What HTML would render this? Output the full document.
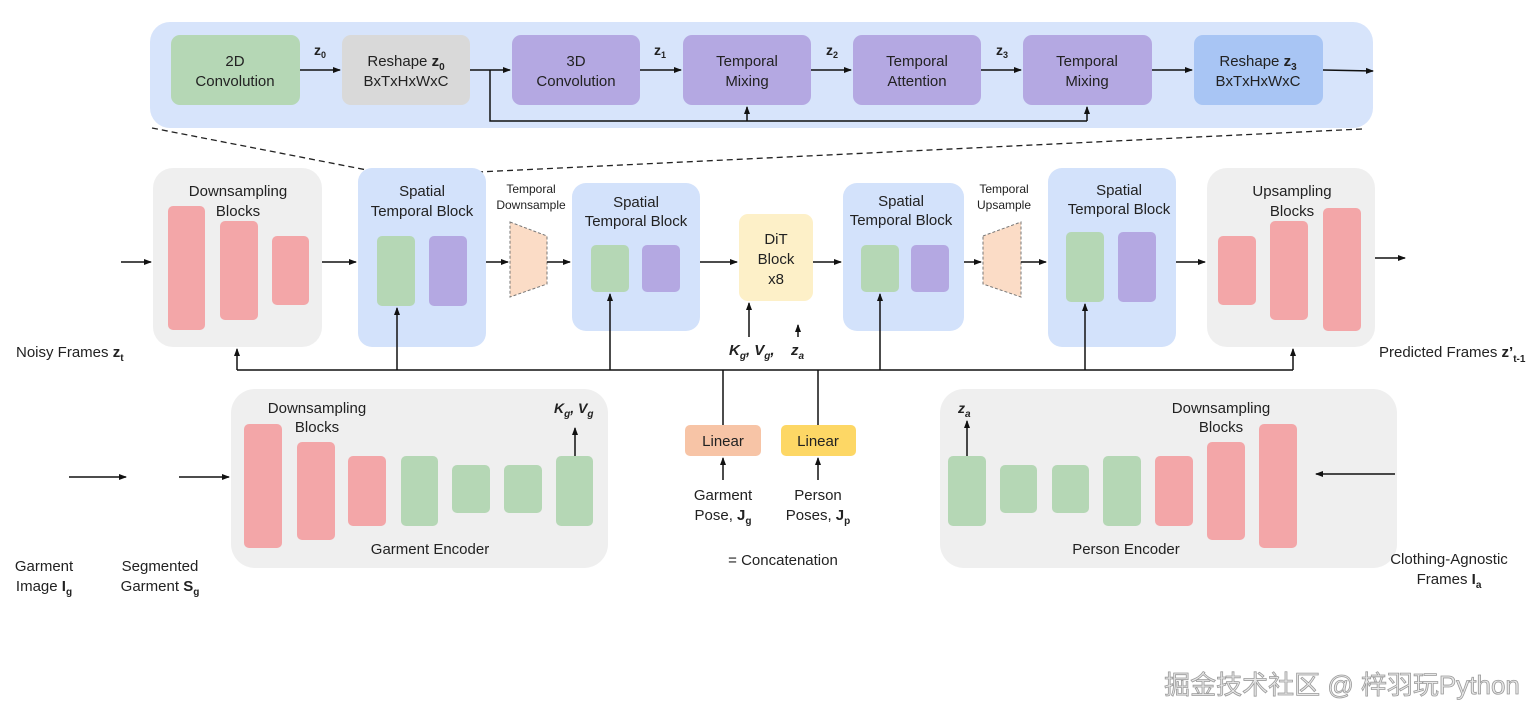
<!DOCTYPE html>
<html><head><meta charset="utf-8"><style>
html,body{margin:0;padding:0;background:#fff;}
svg{display:block;font-family:"Liberation Sans","Noto Sans CJK SC",sans-serif;}
text{fill:#222;}
</style></head><body>
<svg width="1536" height="720" viewBox="0 0 1536 720" xmlns="http://www.w3.org/2000/svg">
<defs>
<marker id="a" markerWidth="8" markerHeight="8" refX="7" refY="4" orient="auto" markerUnits="userSpaceOnUse"><path d="M0,1 L8,4 L0,7 z" fill="#111"/></marker>
</defs>
<g stroke="#111" stroke-width="1.5" fill="none">
<!-- top panel -->
</g>
<rect x="150" y="22" width="1223" height="106" rx="20" fill="#d7e4fb"/>
<g stroke="#222" stroke-width="1.3" stroke-dasharray="6,4" fill="none">
<line x1="152" y1="128" x2="372" y2="171"/>
<line x1="1362" y1="129" x2="478" y2="172"/>
</g>
<rect x="171" y="35" width="129" height="70" rx="9" fill="#b5d7b5"/>
<rect x="342" y="35" width="128" height="70" rx="9" fill="#d9d9d9"/>
<rect x="512" y="35" width="128" height="70" rx="9" fill="#b4a8e2"/>
<rect x="683" y="35" width="128" height="70" rx="9" fill="#b4a8e2"/>
<rect x="853" y="35" width="128" height="70" rx="9" fill="#b4a8e2"/>
<rect x="1023" y="35" width="129" height="70" rx="9" fill="#b4a8e2"/>
<rect x="1194" y="35" width="129" height="70" rx="9" fill="#a8c5f4"/>
<g font-size="15" text-anchor="middle">
<text x="235" y="66">2D</text><text x="235" y="86">Convolution</text>
<text x="406" y="66">Reshape <tspan font-weight="bold">z</tspan><tspan font-size="10" dy="4" font-weight="bold">0</tspan></text><text x="406" y="86">BxTxHxWxC</text>
<text x="576" y="66">3D</text><text x="576" y="86">Convolution</text>
<text x="747" y="66">Temporal</text><text x="747" y="86">Mixing</text>
<text x="917" y="66">Temporal</text><text x="917" y="86">Attention</text>
<text x="1087" y="66">Temporal</text><text x="1087" y="86">Mixing</text>
<text x="1258" y="66">Reshape <tspan font-weight="bold">z</tspan><tspan font-size="10" dy="4" font-weight="bold">3</tspan></text><text x="1258" y="86">BxTxHxWxC</text>
</g>
<g font-size="14" font-weight="bold">
<text x="314" y="55">z<tspan font-size="9" dy="3">0</tspan></text>
<text x="654" y="55">z<tspan font-size="9" dy="3">1</tspan></text>
<text x="826" y="55">z<tspan font-size="9" dy="3">2</tspan></text>
<text x="996" y="55">z<tspan font-size="9" dy="3">3</tspan></text>
</g>
<g stroke="#111" stroke-width="1.5" fill="none">
<line x1="300" y1="70" x2="340" y2="70" marker-end="url(#a)"/>
<line x1="470" y1="70" x2="510" y2="70" marker-end="url(#a)"/>
<line x1="640" y1="70" x2="681" y2="70" marker-end="url(#a)"/>
<line x1="811" y1="70" x2="851" y2="70" marker-end="url(#a)"/>
<line x1="981" y1="70" x2="1021" y2="70" marker-end="url(#a)"/>
<line x1="1152" y1="70" x2="1192" y2="70" marker-end="url(#a)"/>
<line x1="1323" y1="70" x2="1373" y2="71" marker-end="url(#a)"/>
<polyline points="490,70 490,121 1087,121"/>
<line x1="747" y1="121" x2="747" y2="107" marker-end="url(#a)"/>
<line x1="1087" y1="121" x2="1087" y2="107" marker-end="url(#a)"/>
</g>

<!-- middle row -->
<rect x="153" y="168" width="169" height="179" rx="20" fill="#efefef"/>
<rect x="358" y="168" width="128" height="179" rx="14" fill="#d3e2fb"/>
<rect x="572" y="183" width="128" height="148" rx="14" fill="#d3e2fb"/>
<rect x="739" y="214" width="74" height="87" rx="9" fill="#fdf0c8"/>
<rect x="843" y="183" width="121" height="148" rx="14" fill="#d3e2fb"/>
<rect x="1048" y="168" width="128" height="179" rx="14" fill="#d3e2fb"/>
<rect x="1207" y="168" width="168" height="179" rx="20" fill="#efefef"/>
<g fill="#f3a6a8">
<rect x="168" y="206" width="37" height="124" rx="5"/>
<rect x="220" y="221" width="38" height="99" rx="5"/>
<rect x="272" y="236" width="37" height="69" rx="5"/>
<rect x="1218" y="236" width="38" height="69" rx="5"/>
<rect x="1270" y="221" width="38" height="99" rx="5"/>
<rect x="1323" y="208" width="38" height="123" rx="5"/>
</g>
<g fill="#b5d7b5">
<rect x="377" y="236" width="38" height="70" rx="5"/>
<rect x="591" y="245" width="38" height="47" rx="5"/>
<rect x="861" y="245" width="38" height="47" rx="5"/>
<rect x="1066" y="232" width="38" height="70" rx="5"/>
</g>
<g fill="#b4a8e2">
<rect x="429" y="236" width="38" height="70" rx="5"/>
<rect x="642" y="245" width="38" height="47" rx="5"/>
<rect x="911" y="245" width="38" height="47" rx="5"/>
<rect x="1118" y="232" width="38" height="70" rx="5"/>
</g>
<g fill="#fbdcc6" stroke="#777" stroke-width="1" stroke-dasharray="3,2">
<polygon points="510,222 547,236 547,284 510,297"/>
<polygon points="983,236 1021,222 1021,297 983,284"/>
</g>
<g font-size="15" text-anchor="middle">
<text x="238" y="196">Downsampling</text><text x="238" y="216">Blocks</text>
<text x="422" y="196">Spatial</text><text x="422" y="216">Temporal Block</text>
<text x="636" y="207">Spatial</text><text x="636" y="226">Temporal Block</text>
<text x="776" y="244">DiT</text><text x="776" y="264">Block</text><text x="776" y="284">x8</text>
<text x="901" y="206">Spatial</text><text x="901" y="225">Temporal Block</text>
<text x="1119" y="195">Spatial</text><text x="1119" y="214">Temporal Block</text>
<text x="1292" y="196">Upsampling</text><text x="1292" y="216">Blocks</text>
</g>
<g font-size="12" text-anchor="middle">
<text x="531" y="193">Temporal</text><text x="531" y="209">Downsample</text>
<text x="1004" y="193">Temporal</text><text x="1004" y="209">Upsample</text>
</g>
<g stroke="#111" stroke-width="1.5" fill="none">
<line x1="121" y1="262" x2="151" y2="262" marker-end="url(#a)"/>
<line x1="322" y1="262" x2="356" y2="262" marker-end="url(#a)"/>
<line x1="486" y1="262" x2="508" y2="262" marker-end="url(#a)"/>
<line x1="547" y1="262" x2="570" y2="262" marker-end="url(#a)"/>
<line x1="700" y1="262" x2="737" y2="262" marker-end="url(#a)"/>
<line x1="813" y1="262" x2="841" y2="262" marker-end="url(#a)"/>
<line x1="964" y1="262" x2="981" y2="262" marker-end="url(#a)"/>
<line x1="1021" y1="262" x2="1046" y2="262" marker-end="url(#a)"/>
<line x1="1176" y1="262" x2="1205" y2="262" marker-end="url(#a)"/>
<line x1="1375" y1="258" x2="1405" y2="258" marker-end="url(#a)"/>
<!-- bus -->
<line x1="237" y1="370" x2="1293" y2="370"/>
<line x1="237" y1="370" x2="237" y2="349" marker-end="url(#a)"/>
<line x1="397" y1="370" x2="397" y2="308" marker-end="url(#a)"/>
<line x1="610" y1="370" x2="610" y2="294" marker-end="url(#a)"/>
<line x1="880" y1="370" x2="880" y2="294" marker-end="url(#a)"/>
<line x1="1085" y1="370" x2="1085" y2="304" marker-end="url(#a)"/>
<line x1="1293" y1="370" x2="1293" y2="349" marker-end="url(#a)"/>
<line x1="723" y1="370" x2="723" y2="425"/>
<line x1="818" y1="370" x2="818" y2="425"/>
<line x1="749" y1="337" x2="749" y2="303" marker-end="url(#a)"/>
<line x1="798" y1="337" x2="798" y2="325" marker-end="url(#a)"/>
<line x1="723" y1="480" x2="723" y2="458" marker-end="url(#a)"/>
<line x1="818" y1="480" x2="818" y2="458" marker-end="url(#a)"/>
</g>
<g font-size="15" font-weight="bold" font-style="italic">
<text x="729" y="355">K<tspan font-size="10" dy="4">g</tspan><tspan dy="-4">, V</tspan><tspan font-size="10" dy="4">g</tspan><tspan dy="-4">,</tspan></text>
<text x="791" y="355">z<tspan font-size="10" dy="4">a</tspan></text>
</g>
<text x="16" y="357" font-size="15">Noisy Frames <tspan font-weight="bold">z</tspan><tspan font-size="10" dy="4" font-weight="bold">t</tspan></text>
<text x="1379" y="357" font-size="15">Predicted Frames <tspan font-weight="bold">z’</tspan><tspan font-size="10" dy="5" font-weight="bold">t-1</tspan></text>

<!-- Linear -->
<rect x="685" y="425" width="76" height="31" rx="5" fill="#f7c4a6"/>
<rect x="781" y="425" width="75" height="31" rx="5" fill="#fdd765"/>
<g font-size="15" text-anchor="middle">
<text x="723" y="446">Linear</text><text x="818" y="446">Linear</text>
<text x="723" y="500">Garment</text><text x="723" y="520">Pose, <tspan font-weight="bold">J</tspan><tspan font-size="10" dy="4" font-weight="bold">g</tspan></text>
<text x="818" y="500">Person</text><text x="818" y="520">Poses, <tspan font-weight="bold">J</tspan><tspan font-size="10" dy="4" font-weight="bold">p</tspan></text>
<text x="783" y="565">= Concatenation</text>
</g>

<!-- encoders -->
<rect x="231" y="389" width="377" height="179" rx="24" fill="#efefef"/>
<rect x="940" y="389" width="457" height="179" rx="24" fill="#efefef"/>
<g fill="#f3a6a8">
<rect x="244" y="424" width="38" height="124" rx="5"/>
<rect x="297" y="442" width="38" height="98" rx="5"/>
<rect x="348" y="456" width="38" height="70" rx="5"/>
<rect x="1155" y="456" width="38" height="70" rx="5"/>
<rect x="1207" y="442" width="38" height="98" rx="5"/>
<rect x="1259" y="424" width="38" height="124" rx="5"/>
</g>
<g fill="#b5d7b5">
<rect x="401" y="456" width="37" height="70" rx="5"/>
<rect x="452" y="465" width="38" height="48" rx="5"/>
<rect x="504" y="465" width="38" height="48" rx="5"/>
<rect x="556" y="456" width="37" height="70" rx="5"/>
<rect x="948" y="456" width="38" height="70" rx="5"/>
<rect x="1000" y="465" width="37" height="48" rx="5"/>
<rect x="1052" y="465" width="37" height="48" rx="5"/>
<rect x="1103" y="456" width="38" height="70" rx="5"/>
</g>
<g font-size="15" text-anchor="middle">
<text x="317" y="413">Downsampling</text><text x="317" y="432">Blocks</text>
<text x="430" y="554">Garment Encoder</text>
<text x="1221" y="413">Downsampling</text><text x="1221" y="432">Blocks</text>
<text x="1126" y="554">Person Encoder</text>
<text x="44" y="571">Garment</text><text x="44" y="591">Image <tspan font-weight="bold">I</tspan><tspan font-size="10" dy="4" font-weight="bold">g</tspan></text>
<text x="160" y="571">Segmented</text><text x="160" y="591">Garment <tspan font-weight="bold">S</tspan><tspan font-size="10" dy="4" font-weight="bold">g</tspan></text>
<text x="1449" y="564">Clothing-Agnostic</text><text x="1449" y="584">Frames <tspan font-weight="bold">I</tspan><tspan font-size="10" dy="4" font-weight="bold">a</tspan></text>
</g>
<g font-size="14" font-weight="bold" font-style="italic">
<text x="554" y="413">K<tspan font-size="10" dy="4">g</tspan><tspan dy="-4">, V</tspan><tspan font-size="10" dy="4">g</tspan></text>
<text x="958" y="413">z<tspan font-size="10" dy="4">a</tspan></text>
</g>
<g stroke="#111" stroke-width="1.5" fill="none">
<line x1="69" y1="477" x2="126" y2="477" marker-end="url(#a)"/>
<line x1="179" y1="477" x2="229" y2="477" marker-end="url(#a)"/>
<line x1="575" y1="456" x2="575" y2="428" marker-end="url(#a)"/>
<line x1="967" y1="456" x2="967" y2="421" marker-end="url(#a)"/>
<line x1="1395" y1="474" x2="1316" y2="474" marker-end="url(#a)"/>
</g>
<text x="1342" y="694" font-size="26" text-anchor="middle" style="fill:#e8e8e8;stroke:#9a9a9a;stroke-width:0.8">掘金技术社区 @ 梓羽玩Python</text>
</svg>
</body></html>
